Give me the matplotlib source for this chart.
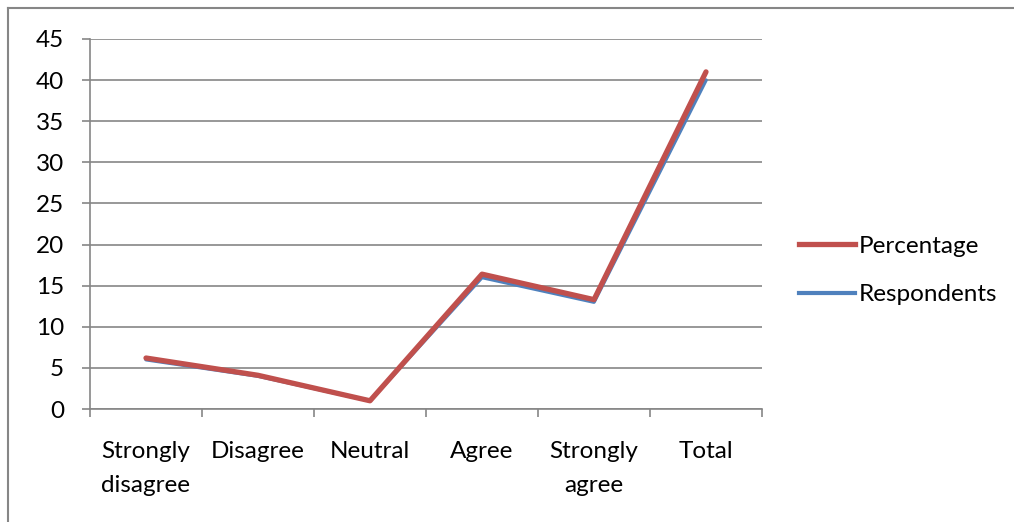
import matplotlib.pyplot as plt
from matplotlib.lines import Line2D

categories = ['Strongly\ndisagree', 'Disagree', 'Neutral', 'Agree', 'Strongly\nagree', 'Total']
respondents = [6, 4, 1, 16, 13, 40]
percentage = [6.2, 4.1, 1.0, 16.4, 13.3, 41.0]

plt.rcParams['font.family'] = ['Lato', 'DejaVu Sans']

W, H = 1014, 522
fig = plt.figure(figsize=(W / 100, H / 100), dpi=100)
# plot area in pixels: x 90..762, y 39..409
ax = fig.add_axes([90 / W, 1 - 409 / H, 672 / W, 370 / H])

grey = '#868686'
fs = 17.5
x = range(len(categories))
ax.plot(x, respondents, color='#4F81BD', lw=2.6, solid_capstyle='round', zorder=3)
ax.plot(x, percentage, color='#C0504D', lw=3.8, solid_capstyle='round', zorder=4)

ax.set_xlim(-0.5, len(categories) - 0.5)
ax.set_ylim(0, 45)
ax.set_yticks(range(0, 46, 5))
ax.grid(axis='y', color=grey, lw=1.2)
ax.set_axisbelow(True)

ax.set_xticks(list(x))
ax.set_xticklabels(categories, fontsize=fs, linespacing=1.75, va='top')
ax.set_xticks([i - 0.5 for i in range(len(categories) + 1)], minor=True)
ax.tick_params(axis='x', which='major', length=0, pad=23)
ax.tick_params(axis='x', which='minor', length=5.8, color=grey, width=1.2)
ax.tick_params(axis='y', length=5.8, color=grey, width=1.2, labelsize=fs, pad=13)

for side in ['top', 'right']:
    ax.spines[side].set_visible(False)
for side in ['left', 'bottom']:
    ax.spines[side].set_color(grey)
    ax.spines[side].set_linewidth(1.2)

handles = [Line2D([], [], color='#C0504D', lw=3.8),
           Line2D([], [], color='#4F81BD', lw=3.0)]
fig.legend(handles, ['Percentage', 'Respondents'], loc='upper left',
           bbox_to_anchor=(777 / W, 1 - 214 / H), frameon=False,
           fontsize=fs, handlelength=2.3, handletextpad=0.15,
           labelspacing=1.12)

# outer chart border (top and left edges)
fig.add_artist(Line2D([8 / W, 1], [1 - 8 / H, 1 - 8 / H], color=grey, lw=1.5,
                      transform=fig.transFigure))
fig.add_artist(Line2D([8 / W, 8 / W], [0, 1 - 8 / H], color=grey, lw=1.5,
                      transform=fig.transFigure))

fig.savefig('out.png', dpi=100)
